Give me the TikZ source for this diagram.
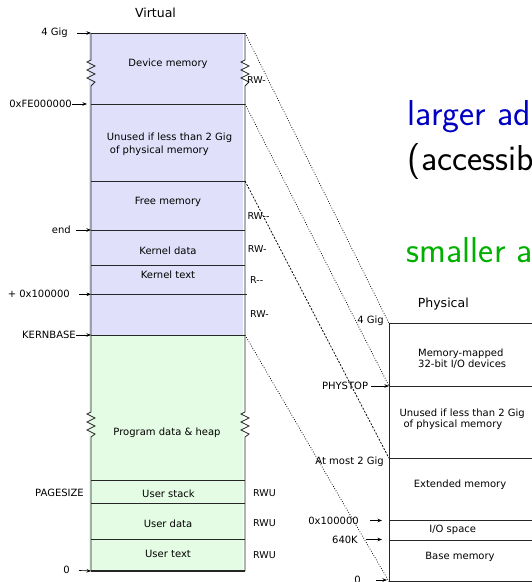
\documentclass[tikz,border=0pt]{standalone}
\usepackage{fontspec}
\newfontfamily\dvfont{DejaVu Sans}
\usetikzlibrary{arrows.meta}
\definecolor{kblue}{RGB}{224,224,250}
\definecolor{ugreen}{RGB}{228,252,228}
\definecolor{bigblue}{RGB}{0,0,195}
\definecolor{biggreen}{RGB}{0,175,0}
\begin{document}
\begin{tikzpicture}[x=1pt,y=-1pt,
  lbl/.style={font=\dvfont\fontsize{10}{12}\selectfont, inner sep=0pt},
  rwl/.style={font=\dvfont\fontsize{9.5}{11}\selectfont, inner sep=0pt, anchor=west},
  ttl/.style={font=\dvfont\fontsize{12.5}{14}\selectfont, inner sep=0pt},
  box/.style={line width=0.8pt, draw=black!85},
  ptr/.style={-{Stealth[length=4.5pt,width=3.5pt]}, line width=0.6pt},
  mapdot/.style={dash pattern=on 0.8pt off 1.7pt, line width=0.75pt},
  mapdash/.style={dash pattern=on 2pt off 1.5pt, line width=0.75pt},
  big/.style={font=\sffamily\fontsize{36}{40}\selectfont, inner sep=0pt, anchor=base west}]
\useasboundingbox (0,0) rectangle (532,582);
\clip (0,0) rectangle (532,582);

% ---------- virtual ----------
\fill[kblue] (89,33) rectangle (243,335);
\fill[ugreen] (89,335) rectangle (243,571);

\coordinate (vtl) at (91,33);   \coordinate (vtr) at (245,33);
\coordinate (vfel) at (91,104); \coordinate (vfer) at (245,104);
\coordinate (vfrl) at (91,181); \coordinate (vfrr) at (245,181);
\coordinate (vendl) at (91,230); \coordinate (vendr) at (245,230);
\coordinate (vkdl) at (91,265.3); \coordinate (vkdr) at (245,265.3);
\coordinate (vmbl) at (91,294.3); \coordinate (vmbr) at (246.5,294.3);
\coordinate (vkbl) at (91,335); \coordinate (vkbr) at (245,335);
\coordinate (vusl) at (91,480.3); \coordinate (vusr) at (245,480.3);
\coordinate (vudl) at (91,503.3); \coordinate (vudr) at (245,503.3);
\coordinate (vutl) at (91,539.7); \coordinate (vutr) at (245,539.7);
\coordinate (vbl) at (91,571);  \coordinate (vbr) at (245,571);

\draw[box] (vtl) -- (91,60) -- (87,62) -- (95,66) -- (87,70) -- (95,74) -- (87,78) -- (95,82) -- (91,86)
  -- (91,412) -- (87,414) -- (95,418) -- (87,422) -- (95,426) -- (87,430) -- (95,434) -- (91,437) -- (vbl);
\draw[box] (vtr) -- (245,60) -- (241,62) -- (249,66) -- (241,70) -- (249,74) -- (241,78) -- (249,82) -- (245,86)
  -- (245,412) -- (241,414) -- (249,418) -- (241,422) -- (249,426) -- (241,430) -- (249,434) -- (245,437) -- (vbr);
\draw[box] (vtl) -- (vtr);
\draw[box] (vfel) -- (vfer);
\draw[box] (vfrl) -- (vfrr);
\draw[box] (vendl) -- (vendr);
\draw[box] (vkdl) -- (vkdr);
\draw[box] (vmbl) -- (vmbr);
\draw[box] (vkbl) -- (vkbr);
\draw[box] (vusl) -- (vusr);
\draw[box] (vudl) -- (vudr);
\draw[box] (vutl) -- (vutr);
\draw[box, line width=1.3pt] (vbl) -- (vbr);

\node[ttl] (vtitle) at (155.5,13) {Virtual};
\node[lbl] (vdev) at (168,64) {Device memory};
\node[lbl, anchor=west, align=left, font=\dvfont\fontsize{10}{13}\selectfont] (vunused) at (106.7,144.5) {Unused if less than 2 Gig\\\hspace{3pt}of physical memory};
\node[lbl] (vfree) at (168,201.5) {Free memory};
\node[lbl] (vkdata) at (168,250.5) {Kernel data};
\node[lbl] (vktext) at (168,275) {Kernel text};
\node[lbl] (vprog) at (167,432.7) {Program data \& heap};
\node[lbl] (vustack) at (168.5,493.3) {User stack};
\node[lbl] (vudata) at (168,523.3) {User data};
\node[lbl] (vutext) at (168,554) {User text};

\node[rwl] (rw1) at (247,80) {RW-};
\node[rwl] (rw2) at (247.3,216) {RW--};
\node[rwl] (rw3) at (247.7,249) {RW-};
\node[rwl] (rw4) at (250,280) {R--};
\node[rwl] (rw5) at (250,314) {RW-};
\node[rwl] (rw6) at (253,493.3) {RWU};
\node[rwl] (rw7) at (253,523.3) {RWU};
\node[rwl] (rw8) at (253,555) {RWU};

\node[lbl, anchor=east] (l4g) at (68,33) {4 Gig};
\node[lbl, anchor=east] (lfe) at (72,104) {0xFE000000};
\node[lbl, anchor=east] (lend) at (71,230) {end};
\node[lbl, anchor=east] (lmb) at (70,294.3) {+ 0x100000};
\node[lbl, anchor=east] (lkb) at (76,335) {KERNBASE};
\node[lbl, anchor=east] (lps) at (84,493.3) {PAGESIZE};
\node[lbl, anchor=east] (l0) at (70,570) {0};

\draw[ptr, shorten <=9pt] (l4g.east) -- (vtl);
\draw[ptr, shorten >=4pt] (lfe.east) -- (vfel);
\draw[ptr, shorten <=5pt] (lend.east) -- (vendl);
\draw[ptr, shorten <=9pt] (lmb.east) -- (vmbl);
\draw[ptr] (lkb.east) -- (vkbl);
\draw[ptr, shorten <=9pt] (l0.east) -- (vbl);

% ---------- physical ----------
\coordinate (ptl) at (389,323.3);  \coordinate (ptr) at (545,323.3);
\coordinate (pphl) at (389,386);   \coordinate (pphr) at (545,386);
\coordinate (p2gl) at (389,458.3); \coordinate (p2gr) at (545,458.3);
\coordinate (pmbl) at (389,520.7); \coordinate (pmbr) at (545,520.7);
\coordinate (p64l) at (389,540);   \coordinate (p64r) at (545,540);
\coordinate (pbl) at (389,581.5);  \coordinate (pbr) at (545,581.5);

\draw[box, line width=0.9pt] (ptr) -- (ptl) -- (pbl) -- (pbr);
\draw[box] (pphl) -- (pphr);
\draw[box] (p2gl) -- (p2gr);
\draw[box] (pmbl) -- (pmbr);
\draw[box] (p64l) -- (p64r);

\node[ttl] (ptitle) at (443.3,304) {Physical};
\node[lbl, anchor=west, align=left, font=\dvfont\fontsize{10}{11.3}\selectfont] (pmm) at (418,358.4) {Memory-mapped\\32-bit I/O devices};
\node[lbl, anchor=west, align=left, font=\dvfont\fontsize{10}{11}\selectfont] (punused) at (399.3,419.5) {Unused if less than 2 Gig\\\hspace{4pt}of physical memory};
\node[lbl] (pext) at (460,484.3) {Extended memory};
\node[lbl] (pio) at (452.7,530) {I/O space};
\node[lbl] (pbase) at (460,557.3) {Base memory};

\node[lbl, anchor=east] (p4g) at (384,320.7) {4 Gig};
\node[lbl, anchor=east] (pphys) at (368.3,386) {PHYSTOP};
\node[lbl, anchor=east] (pmost) at (384,461.7) {At most 2 Gig};
\node[lbl, anchor=east] (pmb) at (359,520.5) {0x100000};
\node[lbl, anchor=east] (p640) at (358,539.5) {640K};
\node[lbl, anchor=east] (p0) at (361,580) {0};

\draw[ptr, shorten <=3pt] (pphys.east) -- (pphl);
\draw[ptr, shorten <=11pt, shorten >=7pt] (pmb.east) -- (pmb.east -| pmbl);
\draw[ptr, shorten <=8pt, shorten >=7pt] (p640.east) -- (p640.east -| p64l);
\draw[ptr, shorten <=15pt, shorten >=2pt] (p0.east) -- (p0.east -| pbl);

% ---------- mapping lines ----------
\draw[mapdot] (vtr) -- (ptl);
\draw[mapdot] (vfer) -- (pphl);
\draw[mapdash] (vfrr) -- (p2gl);
\draw[mapdot] (vkbr) -- (pbl);

% ---------- slide text ----------
\node[big, text=bigblue] (tlarge) at (407.7,125) {larger addresses};
\node[big] (tacc) at (407.7,170) {(accessible only to kernel)};
\node[big, text=biggreen] (tsmall) at (406.7,262) {smaller addresses};
\end{tikzpicture}
\end{document}
